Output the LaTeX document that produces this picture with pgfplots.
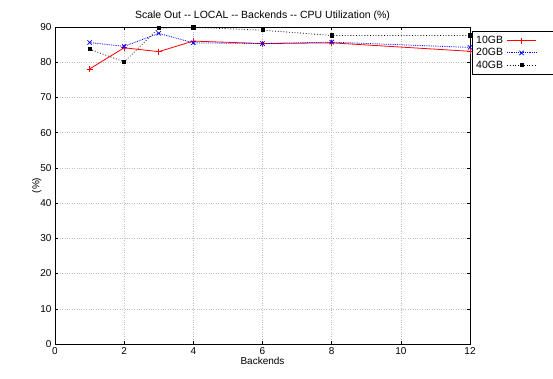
\documentclass[border=0pt]{standalone}
\usepackage{pgfplots}
\pgfplotsset{compat=1.18}
\usepackage{fontspec}
\setmainfont{Liberation Sans}
\begin{document}
\begin{tikzpicture}
\begin{axis}[
  at={(55pt,35pt)}, anchor=south west,
  scale only axis, width=415pt, height=317pt,
  xmin=0, xmax=12, ymin=0, ymax=90,
  xtick={0,2,...,12}, ytick={0,10,...,90},
  grid=major, major grid style={gray!50, dotted, line width=0.5pt},
  tick align=inside, major tick length=3pt,
  tick style={black, line width=0.4pt},
  axis line style={line width=0.6pt},
  font=\fontsize{10}{12}\selectfont,
  /pgf/number format/assume math mode=true,
  title={Scale Out -{}- LOCAL -{}- Backends -{}- CPU Utilization (\%)},
  title style={yshift=-3pt, font=\fontsize{10.5}{12}\selectfont},
  xlabel={Backends}, ylabel={(\%)},
  xlabel style={yshift=4pt}, ylabel style={yshift=-8pt},
  legend plot pos=right,
  legend cell align=left,
  legend style={at={(rel axis cs:1.0048,0.986)}, anchor=north west,
    inner xsep=2pt, inner ysep=2.5pt, row sep=-0.5pt,
    font=\fontsize{10.5}{11}\selectfont, fill=white,
    nodes={inner xsep=2pt, inner ysep=2pt}},
  legend image code/.code={
    \draw[#1, mark=none] (2pt,0pt) -- (31pt,0pt);
    \draw[#1, only marks] plot coordinates {(16.5pt,0pt)};
    \path[draw=none, fill=none] (0pt,0pt) -- (50pt,0pt);},
  clip=false,
]
\addplot[red, line width=0.8pt, mark=+, mark size=3pt] coordinates {
 (1,78.1) (2,84.1) (3,83.0) (4,86.0) (6,85.3) (8,85.5) (12,83.1)};
\addlegendentry{10GB}
\addplot[blue, line width=0.8pt, densely dotted, mark=x, mark size=3pt, mark options={solid}] coordinates {
 (1,85.6) (2,84.5) (3,88.2) (4,85.5) (6,85.3) (8,85.7) (12,84.2)};
\addlegendentry{20GB}
\addplot[black, line width=0.8pt, dotted, mark=square*, mark size=1.6pt, mark options={solid}] coordinates {
 (1,83.7) (2,80.1) (3,89.7) (4,89.9) (6,89.1) (8,87.6) (12,87.6)};
\addlegendentry{40GB}
\end{axis}
\pgfresetboundingbox
\path (0,0) rectangle (553pt,379pt);
\end{tikzpicture}
\end{document}
